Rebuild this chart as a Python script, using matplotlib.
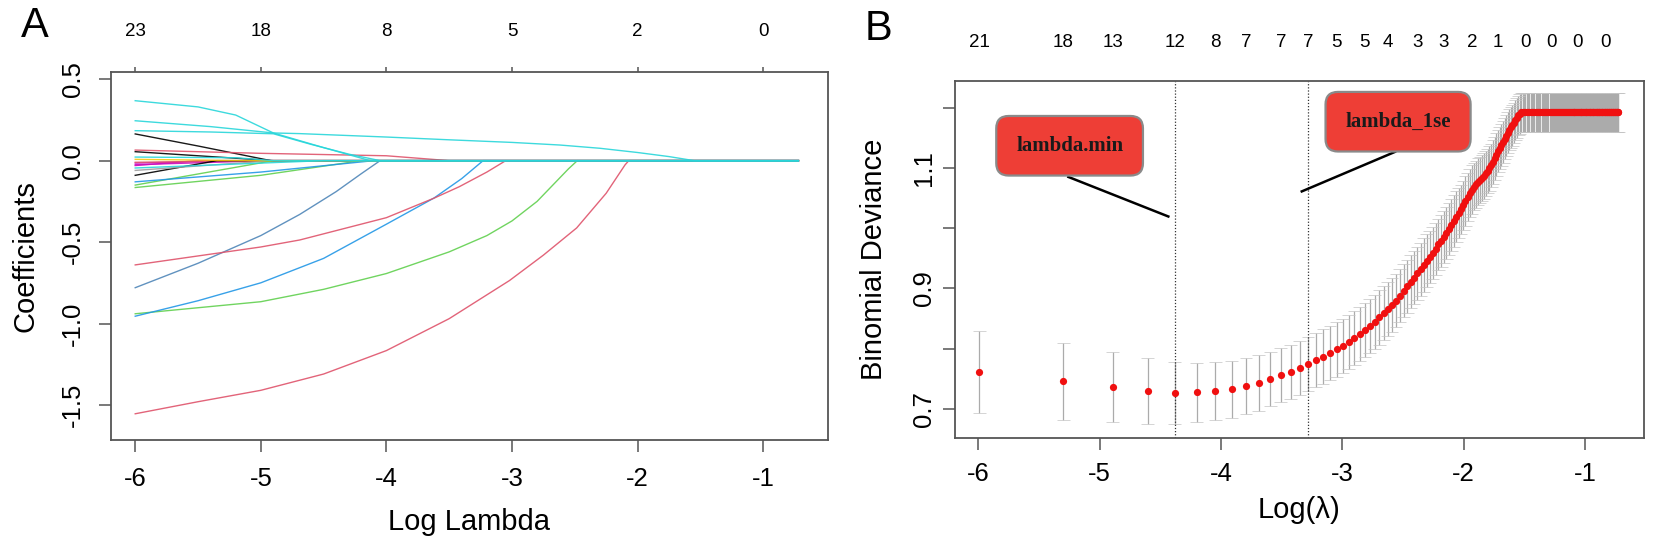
import numpy as np
import matplotlib
matplotlib.use('Agg')
from matplotlib import pyplot as plt

plt.rcParams['font.family'] = ['Liberation Sans', 'DejaVu Sans']

# ---------------- panel A : lasso coefficient paths ----------------
a_xticks = [-6, -5, -4, -3, -2, -1]
a_df = ['23', '18', '8', '5', '2', '0']
a_yticks = [0.5, 0.0, -0.5, -1.0, -1.5]
a_ylabels = ['0.5', '0.0', '-0.5', '-1.0', '-1.5']

# each path: log lambda knots / coefficient values
path_x = [
    [-6, -5.5, -4.92, -0.72],
    [-6, -5, -4, -3.5, -0.72],
    [-6, -4.9, -0.72],
    [-6, -5.2, -0.72],
    [-6, -5.5, -0.72],
    [-6, -4.95, -0.72],
    [-6, -5.0, -0.72],
    [-6, -5.35, -0.72],
    [-6, -4.9, -0.72],
    [-6, -4.9, -0.72],
    [-6, -5.0, -4.2, -0.72],
    [-6, -5.0, -4.1, -0.72],
    [-6, -5.1, -0.72],
    [-6, -5.5, -5.0, -4.5, -4.0, -3.5, -3.02, -2.75, -2.485, -2.25, -2.1, -2.07, -0.72],
    [-6, -5.0, -4.5, -4.0, -3.5, -3.2, -3.0, -2.8, -2.65, -2.55, -2.48, -0.72],
    [-6, -5.5, -5.0, -4.5, -4.0, -3.62, -3.4, -3.23, -0.72],
    [-6, -5.5, -5.0, -4.69, -4.4, -4.2, -4.05, -0.72],
    [-6, -5.0, -4.69, -4.0, -3.62, -3.42, -3.2, -3.05, -0.72],
    [-6, -5.2, -4.9, -0.72],
    [-6, -4.5, -0.72],
    [-6, -5.4, -4.9, -4.6, -4.3, -4.05, -0.72],
    [-6, -5.5, -5.2, -4.9, -4.5, -4.13, -0.72],
    [-6, -5.4, -4.9, -4.69, -4.0, -3.5, -3.0, -2.62, -2.3, -2.0, -1.75, -1.55, -0.72],
]
path_y = [
    [0.164, 0.09, 0, 0],
    [0.065, 0.045, 0.03, 0, 0],
    [0.055, 0, 0],
    [-0.015, 0, 0],
    [-0.03, 0, 0],
    [-0.025, 0, 0],
    [-0.01, 0, 0],
    [-0.09, 0, 0],
    [-0.06, 0, 0],
    [-0.15, 0, 0],
    [-0.165, -0.09, 0, 0],
    [-0.13, -0.07, 0, 0],
    [0.008, 0, 0],
    [-1.554, -1.48, -1.41, -1.31, -1.166, -0.97, -0.736, -0.58, -0.413, -0.2, -0.026, 0, 0],
    [-0.94, -0.866, -0.79, -0.693, -0.56, -0.46, -0.37, -0.25, -0.13, -0.05, 0, 0],
    [-0.955, -0.86, -0.75, -0.6, -0.39, -0.229, -0.11, 0, 0],
    [-0.78, -0.63, -0.46, -0.33, -0.19, -0.08, 0, 0],
    [-0.64, -0.53, -0.487, -0.35, -0.23, -0.16, -0.07, 0, 0],
    [0.022, 0.018, 0, 0],
    [-0.045, 0, 0],
    [0.184, 0.176, 0.165, 0.10, 0.04, 0, 0],
    [0.368, 0.33, 0.28, 0.17, 0.08, 0, 0],
    [0.245, 0.209, 0.17, 0.166, 0.145, 0.128, 0.112, 0.096, 0.076, 0.05, 0.025, 0, 0],
]
path_color = ['black', '#DF536B', 'black', '#CD0BBC', '#CD0BBC', '#CD0BBC', '#DF536B',
              'black', '#9E9E9E', '#61D04F', '#61D04F', '#2297E6', '#F5C710',
              '#DF536B', '#61D04F', '#2297E6', '#4F86B8', '#DF536B',
              '#28D6DA', '#28D6DA', '#28D6DA', '#28D6DA', '#28D6DA']

# ---------------- panel B : cross-validated deviance ----------------
lam_step = 0.0025
n_lam = 194
log_lam = np.log(lam_step * np.arange(1, n_lam + 1))

cv_dev = [
    0.761, 0.746, 0.737, 0.730, 0.727, 0.728, 0.730, 0.733, 0.738, 0.743,
    0.750, 0.756, 0.762, 0.768, 0.775, 0.781, 0.787, 0.793, 0.799, 0.805,
    0.811, 0.818, 0.824, 0.831, 0.838, 0.845, 0.852, 0.859, 0.866, 0.873,
    0.880, 0.888, 0.896, 0.904, 0.911, 0.918, 0.925, 0.932, 0.939, 0.946,
    0.952, 0.959, 0.966, 0.973, 0.979, 0.986, 0.992, 0.999, 1.006, 1.012,
    1.019, 1.025, 1.031, 1.038, 1.045, 1.052, 1.058, 1.064, 1.069, 1.073,
    1.077, 1.080, 1.083, 1.087, 1.091, 1.095, 1.099, 1.104, 1.110, 1.116,
    1.122, 1.128, 1.133, 1.138, 1.143, 1.148, 1.153, 1.158, 1.163, 1.167,
    1.171, 1.175, 1.179, 1.183, 1.187, 1.190, 1.192, 1.192, 1.192, 1.192,
    1.192, 1.192, 1.192, 1.192, 1.192, 1.192, 1.192, 1.192, 1.192, 1.192,
    1.192, 1.192, 1.192, 1.192, 1.192, 1.192, 1.192, 1.192, 1.192, 1.192,
    1.192, 1.192, 1.192, 1.192, 1.192, 1.192, 1.192, 1.192, 1.192, 1.192,
    1.192, 1.192, 1.192, 1.192, 1.192, 1.192, 1.192, 1.192, 1.192, 1.192,
    1.192, 1.192, 1.192, 1.192, 1.192, 1.192, 1.192, 1.192, 1.192, 1.192,
    1.192, 1.192, 1.192, 1.192, 1.192, 1.192, 1.192, 1.192, 1.192, 1.192,
    1.192, 1.192, 1.192, 1.192, 1.192, 1.192, 1.192, 1.192, 1.192, 1.192,
    1.192, 1.192, 1.192, 1.192, 1.192, 1.192, 1.192, 1.192, 1.192, 1.192,
    1.192, 1.192, 1.192, 1.192, 1.192, 1.192, 1.192, 1.192, 1.192, 1.192,
    1.192, 1.192, 1.192, 1.192, 1.192, 1.192, 1.192, 1.192, 1.192, 1.192,
    1.192, 1.192, 1.192, 1.192,
]
cv_se = [
    0.068, 0.064, 0.058, 0.054, 0.051, 0.049, 0.048, 0.047, 0.046, 0.046,
    0.045, 0.045, 0.045, 0.045, 0.045, 0.045, 0.045, 0.045, 0.045, 0.045,
    0.045, 0.045, 0.045, 0.045, 0.045, 0.045, 0.045, 0.045, 0.045, 0.045,
    0.044, 0.044, 0.044, 0.044, 0.044, 0.044, 0.044, 0.044, 0.044, 0.044,
    0.043, 0.043, 0.043, 0.043, 0.043, 0.043, 0.043, 0.043, 0.043, 0.043,
    0.042, 0.042, 0.041, 0.041, 0.041, 0.040, 0.040, 0.040, 0.039, 0.039,
    0.039, 0.038, 0.038, 0.038, 0.037, 0.037, 0.037, 0.036, 0.036, 0.036,
    0.036, 0.035, 0.035, 0.035, 0.035, 0.034, 0.034, 0.034, 0.034, 0.034,
    0.034, 0.033, 0.033, 0.033, 0.033, 0.033, 0.033, 0.033, 0.033, 0.033,
    0.033, 0.033, 0.033, 0.033, 0.033, 0.033, 0.033, 0.033, 0.033, 0.033,
    0.033, 0.033, 0.033, 0.033, 0.033, 0.033, 0.033, 0.033, 0.033, 0.033,
    0.033, 0.033, 0.033, 0.033, 0.033, 0.033, 0.033, 0.033, 0.033, 0.033,
    0.033, 0.033, 0.033, 0.033, 0.033, 0.033, 0.033, 0.033, 0.033, 0.033,
    0.033, 0.033, 0.033, 0.033, 0.033, 0.033, 0.033, 0.033, 0.033, 0.033,
    0.033, 0.033, 0.033, 0.033, 0.033, 0.033, 0.033, 0.033, 0.033, 0.033,
    0.033, 0.033, 0.033, 0.033, 0.033, 0.033, 0.033, 0.033, 0.033, 0.033,
    0.033, 0.033, 0.033, 0.033, 0.033, 0.033, 0.033, 0.033, 0.033, 0.033,
    0.033, 0.033, 0.033, 0.033, 0.033, 0.033, 0.033, 0.033, 0.033, 0.033,
    0.033, 0.033, 0.033, 0.033, 0.033, 0.033, 0.033, 0.033, 0.033, 0.033,
    0.033, 0.033, 0.033, 0.033,
]
# number of non-zero coefficients shown on top (index into lambda grid)
b_df_idx = [0, 1, 2, 4, 6, 8, 11, 14, 18, 23, 28, 36, 45, 57, 71, 89, 111, 138, 173]
b_df = ['21', '18', '13', '12', '8', '7', '7', '7', '5', '5', '4', '3', '3', '2', '1', '0', '0', '0', '0']
idx_min = 4
idx_1se = 14
b_xticks = [-6, -5, -4, -3, -2, -1]
b_yticks = [0.7, 0.8, 0.9, 1.0, 1.1, 1.2]
b_ylabels = ['0.7', '', '0.9', '', '1.1', '']

fig = plt.figure(figsize=(16.54, 5.5), dpi=100)
spine_col = '#555555'


def style_axes(ax):
    for s in ax.spines.values():
        s.set_color(spine_col)
        s.set_linewidth(1.3)
    ax.tick_params(axis='both', direction='out', length=8.5, width=1.1,
                   color=spine_col, labelsize=18.5)


# ---- A ----
axA = fig.add_axes([0.0671, 0.2, 0.4335, 0.6696])
for i in range(len(path_x)):
    axA.plot(path_x[i], path_y[i], color=path_color[i], lw=1.0, alpha=0.9)
axA.set_xlim(-6.193, -0.484)
axA.set_ylim(-1.715, 0.546)
style_axes(axA)
axA.set_xticks(a_xticks, [str(t) for t in a_xticks])
axA.set_yticks(a_yticks, a_ylabels)
axA.tick_params(axis='x', pad=11)
axA.tick_params(axis='y', labelrotation=90, pad=10)
for lab in axA.get_yticklabels():
    lab.set_va('center')
axA.set_xlabel('Log Lambda', fontsize=21)
axA.xaxis.set_label_coords(0.5, -0.185)
axA.set_ylabel('Coefficients', fontsize=21)
axA.yaxis.set_label_coords(-0.099, 0.5)
topA = axA.secondary_xaxis('top')
topA.set_xticks(a_xticks, a_df)
topA.tick_params(length=3.5, width=1.1, color=spine_col, labelsize=13.5, pad=19)
topA.spines['top'].set_visible(False)

# ---- B ----
axB = fig.add_axes([0.5773, 0.2036, 0.4164, 0.649])
dev = np.array(cv_dev)
se = np.array(cv_se)
barw = 0.01 * (log_lam.max() - log_lam.min())
axB.vlines(log_lam, dev - se, dev + se, color='#ABABAB', lw=0.9, zorder=1)
axB.hlines(dev + se, log_lam - barw, log_lam + barw, color='#C4C4C4', lw=0.5, zorder=1)
axB.hlines(dev - se, log_lam - barw, log_lam + barw, color='#C4C4C4', lw=0.5, zorder=1)
axB.plot(log_lam, dev, 'o', color='#F01010', ms=5.2, mec='none', zorder=3)
axB.axvline(log_lam[idx_min], color='#333333', ls=(0, (1, 1.5)), lw=0.9, zorder=2)
axB.axvline(log_lam[idx_1se], color='#333333', ls=(0, (1, 1.5)), lw=0.9, zorder=2)
axB.set_xlim(-6.194, -0.516)
axB.set_ylim(0.652, 1.244)
style_axes(axB)
axB.set_xticks(b_xticks, [str(t) for t in b_xticks])
axB.set_yticks(b_yticks, b_ylabels)
axB.tick_params(axis='x', pad=9)
axB.tick_params(axis='y', labelrotation=90, pad=5)
for lab in axB.get_yticklabels():
    lab.set_va('center')
axB.set_xlabel('Log(λ)', fontsize=21)
axB.xaxis.set_label_coords(0.5, -0.162)
axB.set_ylabel('Binomial Deviance', fontsize=21)
axB.yaxis.set_label_coords(-0.097, 0.5)
topB = axB.secondary_xaxis('top')
topB.set_xticks(log_lam[b_df_idx], b_df)
topB.tick_params(length=0, labelsize=13.5, pad=22)
topB.spines['top'].set_visible(False)

# callout boxes
box = dict(boxstyle='round,pad=0.95,rounding_size=0.6', fc='#EE3E36', ec='#8A8A8A', lw=1.6)
axB.plot([-5.258, -4.434], [1.085, 1.0194], color='black', lw=1.8, zorder=4)
axB.plot([-2.565, -3.334], [1.1266, 1.061], color='black', lw=1.8, zorder=4)
axB.text(-5.248, 1.1367, 'lambda.min', ha='center', va='center', fontsize=15,
         family=['Liberation Serif', 'DejaVu Serif'], weight='bold', color='#1a1a1a',
         bbox=box, zorder=5)
axB.text(-2.54, 1.1766, 'lambda_1se', ha='center', va='center', fontsize=15,
         family=['Liberation Serif', 'DejaVu Serif'], weight='bold', color='#1a1a1a',
         bbox=box, zorder=5)

fig.text(35 / 1654, 1 - 26 / 550, 'A', fontsize=30, ha='center', va='center')
fig.text(878 / 1654, 1 - 29 / 550, 'B', fontsize=30, ha='center', va='center')

fig.savefig('out.png', dpi=100)
